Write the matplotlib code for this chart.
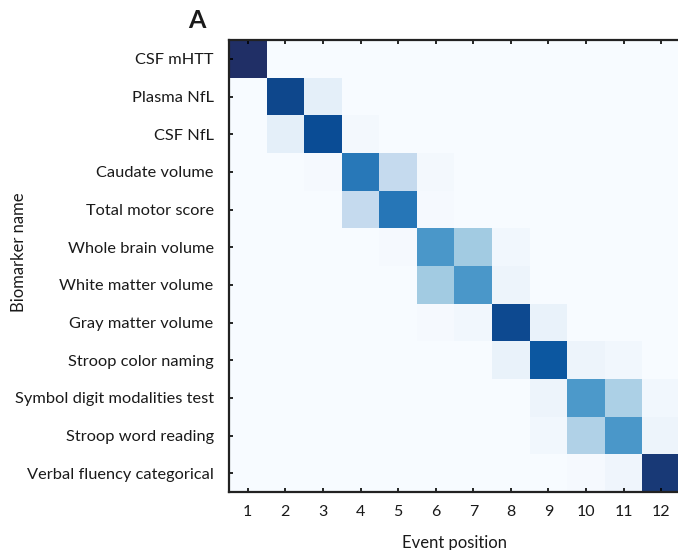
import matplotlib
matplotlib.use("Agg")

import matplotlib.pyplot as plt
import numpy as np
from matplotlib.colors import LinearSegmentedColormap

# biomarkers in event order (top to bottom)
biomarkers = [
    "CSF mHTT",
    "Plasma NfL",
    "CSF NfL",
    "Caudate volume",
    "Total motor score",
    "Whole brain volume",
    "White matter volume",
    "Gray matter volume",
    "Stroop color naming",
    "Symbol digit modalities test",
    "Stroop word reading",
    "Verbal fluency categorical",
]
positions = list(range(1, 13))

# probability of each biomarker sitting at each event position
row_csf_mhtt = [1.00, 0, 0, 0, 0, 0, 0, 0, 0, 0, 0, 0]
row_plasma_nfl = [0, 0.91, 0.09, 0, 0, 0, 0, 0, 0, 0, 0, 0]
row_csf_nfl = [0, 0.09, 0.89, 0.02, 0, 0, 0, 0, 0, 0, 0, 0]
row_caudate = [0, 0, 0.01, 0.72, 0.25, 0.02, 0, 0, 0, 0, 0, 0]
row_motor = [0, 0, 0, 0.25, 0.73, 0.01, 0, 0, 0, 0, 0, 0]
row_whole_brain = [0, 0, 0, 0, 0.01, 0.60, 0.36, 0.03, 0, 0, 0, 0]
row_white_matter = [0, 0, 0, 0, 0, 0.36, 0.60, 0.05, 0, 0, 0, 0]
row_gray_matter = [0, 0, 0, 0, 0, 0.01, 0.03, 0.90, 0.07, 0, 0, 0]
row_stroop_color = [0, 0, 0, 0, 0, 0, 0, 0.07, 0.85, 0.05, 0.03, 0]
row_sdmt = [0, 0, 0, 0, 0, 0, 0, 0, 0.05, 0.59, 0.33, 0.03]
row_stroop_word = [0, 0, 0, 0, 0, 0, 0, 0, 0.03, 0.32, 0.60, 0.05]
row_verbal = [0, 0, 0, 0, 0, 0, 0, 0, 0, 0.01, 0.04, 0.96]

matrix = np.array([
    row_csf_mhtt, row_plasma_nfl, row_csf_nfl, row_caudate, row_motor,
    row_whole_brain, row_white_matter, row_gray_matter, row_stroop_color,
    row_sdmt, row_stroop_word, row_verbal,
])

# Blues, with a slightly more navy top end like the original figure
cmap = LinearSegmentedColormap.from_list("blues_navy", [
    "#f7fbff", "#deebf7", "#c6dbef", "#9ecae1", "#6baed6",
    "#4292c6", "#2171b5", "#08519c", "#202f66",
])

plt.rcParams["font.family"] = ["Lato", "DejaVu Sans"]
text_color = "#1a1a1a"

fig = plt.figure(figsize=(6.78, 5.5), dpi=100)
ax = fig.add_axes([229 / 678, 58 / 550, 451 / 678, 452 / 550])

ax.imshow(matrix, cmap=cmap, vmin=0, vmax=1, aspect="auto",
          interpolation="nearest")

ax.set_xticks(np.arange(len(positions)))
ax.set_xticklabels([str(p) for p in positions], fontsize=11.5, color=text_color)
ax.set_yticks(np.arange(len(biomarkers)))
ax.set_yticklabels(biomarkers, fontsize=11.8, color=text_color)
ax.tick_params(direction="in", length=3, width=1.2, top=True, bottom=True,
               left=True, right=False)
ax.tick_params(axis="x", pad=9)
ax.tick_params(axis="y", pad=11)

for side in ["left", "bottom", "top"]:
    ax.spines[side].set_linewidth(1.6)
    ax.spines[side].set_color("#222222")
ax.spines["right"].set_visible(False)

ax.set_xlabel("Event position", fontsize=12, color=text_color, labelpad=12)
ax.set_ylabel("Biomarker name", fontsize=12, color=text_color)
ax.yaxis.set_label_coords(-(229 - 27) / 451, 0.53)

fig.text(197 / 678, 1 - 20 / 550, "A", fontsize=18, fontweight="bold",
         ha="center", va="center", color=text_color)

fig.savefig("out.png", dpi=100)
